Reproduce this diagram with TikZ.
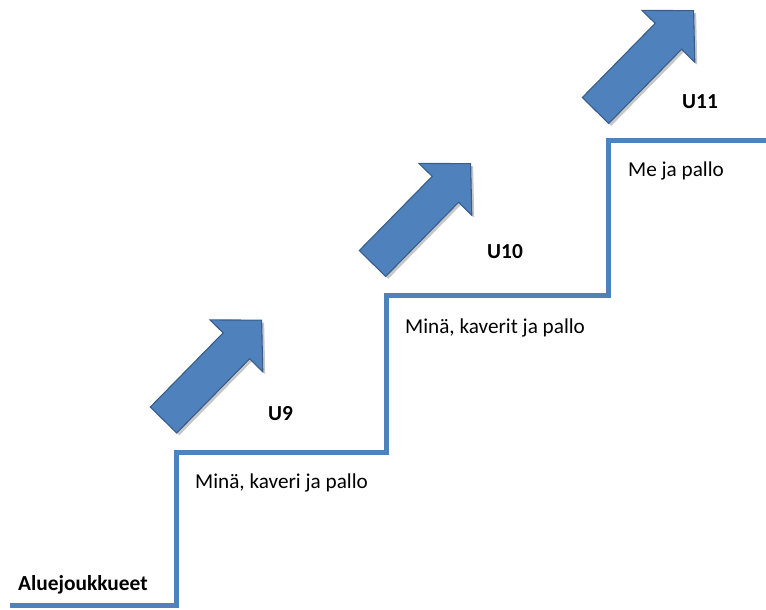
\documentclass[tikz,border=0pt]{standalone}
\usepackage{fontspec}
\setmainfont{Carlito}
\definecolor{stairblue}{HTML}{4F81BD}
\definecolor{edgeblue}{HTML}{385D8A}
\begin{document}
\begin{tikzpicture}[x=1pt,y=-1pt,
  stairline/.style={draw=stairblue,line width=5pt,line join=miter},
  arrowbody/.style={fill=stairblue,draw=edgeblue,line width=1.1pt,line join=miter},
  arrowshadow/.style={fill=black,opacity=0.22},
  stagelabel/.style={font=\fontsize{21.4}{25}\selectfont\bfseries,anchor=base west,inner sep=0pt},
  phaselabel/.style={font=\fontsize{21.2}{25}\selectfont,anchor=base west,inner sep=0pt},
  stepup/.pic={
    \fill[arrowshadow,shift={(0,3.5)}]
      (0,-18.5) -- (104,-18.5) -- (104,-37) -- (140,0) -- (104,37) -- (104,18.5) -- (0,18.5) -- cycle;
    \filldraw[arrowbody]
      (0,-18.5) -- (104,-18.5) -- (104,-37) -- (140,0) -- (104,37) -- (104,18.5) -- (0,18.5) -- cycle;
  }]
\useasboundingbox (0,0) rectangle (766,610);

% the staircase
\draw[stairline] (10,605) -- (176,605) -- (176,452) -- (386,452) -- (386,295)
  -- (608,295) -- (608,140) -- (768,140);

% arrows climbing the steps
\pic[rotate=45.5] at (163.5,420) {stepup};
\pic[rotate=45.5] at (372.5,263.5) {stepup};
\pic[rotate=45.5] at (595.5,110.5) {stepup};

% labels
\node[stagelabel] (base) at (18,590) {Aluejoukkueet};
\node[stagelabel] (u9) at (268,420) {U9};
\node[stagelabel] (u10) at (487,258) {U10};
\node[stagelabel] (u11) at (682,108) {U11};
\node[phaselabel] (p9) at (195,488) {Minä, kaveri ja pallo};
\node[phaselabel] (p10) at (405,333) {Minä, kaverit ja pallo};
\node[phaselabel] (p11) at (628,176) {Me ja pallo};
\end{tikzpicture}
\end{document}
